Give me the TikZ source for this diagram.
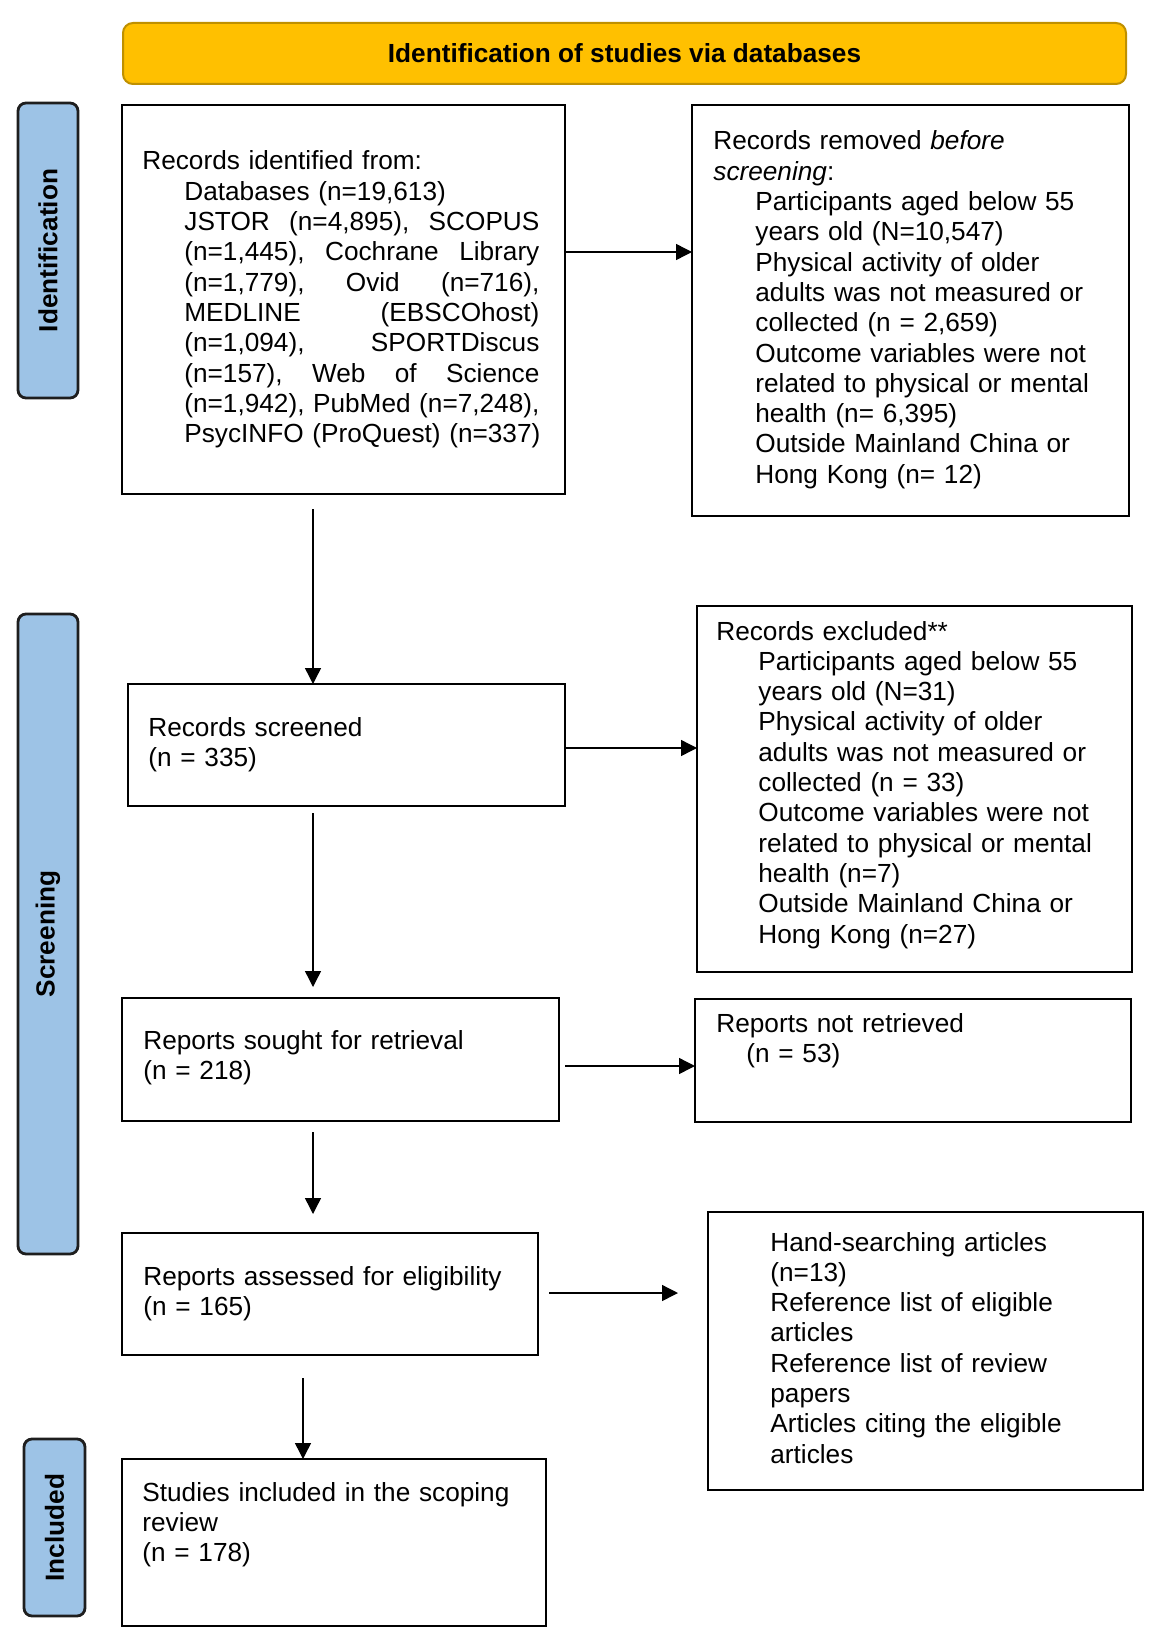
\documentclass[tikz,border=0pt]{standalone}
\usepackage{fontspec}
\setmainfont{Liberation Sans}
\usetikzlibrary{arrows.meta}
\definecolor{hdrfill}{HTML}{FFC000}
\definecolor{hdrline}{HTML}{BF9000}
\definecolor{lblfill}{HTML}{9DC3E6}
\definecolor{lblline}{HTML}{1E1E1E}
\newcommand\myfs{\fontsize{13.1pt}{15.15pt}\selectfont}
\newcommand\ind{\hspace*{21pt}}
\newcommand\js{\hskip 0.278em plus 1fil\relax}
\newcommand\jline[1]{\hbox to 177.5pt{#1}}
\begin{document}
\begin{tikzpicture}[x=0.5pt,y=-0.5pt,
  box/.style={draw=black, line width=1.3pt, fill=white, inner sep=0pt, outer sep=0pt},
  lbl/.style={draw=lblline, line width=1.4pt, fill=lblfill, rounded corners=4pt, inner sep=0pt, outer sep=0pt},
  lbltxt/.style={rotate=90, font=\myfs\bfseries, inner sep=0pt},
  txt/.style={anchor=base west, inner sep=0pt, text width=205pt, align=left, font=\myfs},
  arr/.style={line width=0.7pt, -{Triangle[length=8pt,width=8pt]}}]
\useasboundingbox (0,0) rectangle (1154,1637);

% header
\node[draw=hdrline, line width=1pt, fill=hdrfill, rounded corners=5pt,
      minimum width=501.5pt, minimum height=30.5pt, inner sep=0pt,
      font=\myfs\bfseries] (hdr) at (624.5,53.5) {Identification of studies via databases};

% side labels
\node[lbl, minimum width=30pt, minimum height=147.5pt] (lid) at (48,250.5) {};
\node[lbltxt] (tid) at (lid.center) {Identification};
\node[lbl, minimum width=30pt, minimum height=320pt] (lsc) at (48,934) {};
\node[lbltxt] (tsc) at (lsc.center) {Screening};
\node[lbl, minimum width=30.5pt, minimum height=88.5pt] (lin) at (54.5,1527.5) {};
\node[lbltxt] (tin) at (lin.center) {Included};

% boxes
\node[box, minimum width=221.5pt, minimum height=194.5pt] (b1) at (343.5,299.5) {};
\node[box, minimum width=218.5pt, minimum height=205.5pt] (b2) at (910.5,310.5) {};
\node[box, minimum width=218.5pt, minimum height=61pt]    (b3) at (346.5,745) {};
\node[box, minimum width=217.5pt, minimum height=183pt]   (b4) at (914.5,789) {};
\node[box, minimum width=218.5pt, minimum height=61.5pt]  (b5) at (340.5,1059.5) {};
\node[box, minimum width=218pt,   minimum height=61.5pt]  (b6) at (913,1060.5) {};
\node[box, minimum width=208pt,   minimum height=61pt]    (b7) at (330,1294) {};
\node[box, minimum width=217.5pt, minimum height=139pt]   (b8) at (925.5,1351) {};
\node[box, minimum width=212pt,   minimum height=83.5pt]  (b9) at (334,1542.5) {};

% texts
\node[txt] (t1) at (142,170) {Records identified from:\\
\ind Databases (n=19,613)\\
\ind\jline{JSTOR\js(n=4,895),\js SCOPUS}\\
\ind\jline{(n=1,445),\js Cochrane\js Library}\\
\ind\jline{(n=1,779),\js Ovid\js(n=716),}\\
\ind\jline{MEDLINE\js(EBSCOhost)}\\
\ind\jline{(n=1,094),\js SPORTDiscus}\\
\ind\jline{(n=157),\js Web\js of\js Science}\\
\ind\jline{(n=1,942),\js PubMed\js(n=7,248),}\\
\ind PsycINFO (ProQuest) (n=337)};

\node[txt] (t2) at (713,150) {Records removed \textit{before}\\
\textit{screening}:\\
\ind Participants aged below 55\\
\ind years old (N=10,547)\\
\ind Physical activity of older\\
\ind adults was not measured or\\
\ind collected (n = 2,659)\\
\ind Outcome variables were not\\
\ind related to physical or mental\\
\ind health (n= 6,395)\\
\ind Outside Mainland China or\\
\ind Hong Kong (n= 12)};

\node[txt] (t3) at (148,736) {Records screened\\(n = 335)};

\node[txt] (t4) at (716,640) {Records excluded**\\
\ind Participants aged below 55\\
\ind years old (N=31)\\
\ind Physical activity of older\\
\ind adults was not measured or\\
\ind collected (n = 33)\\
\ind Outcome variables were not\\
\ind related to physical or mental\\
\ind health (n=7)\\
\ind Outside Mainland China or\\
\ind Hong Kong (n=27)};

\node[txt] (t5) at (143,1049) {Reports sought for retrieval\\(n = 218)};
\node[txt] (t6) at (716,1032) {Reports not retrieved\\\hspace*{15pt}(n = 53)};
\node[txt] (t7) at (143,1285) {Reports assessed for eligibility\\(n = 165)};
\node[txt] (t8) at (770,1251) {Hand-searching articles\\(n=13)\\Reference list of eligible\\articles\\Reference list of review\\papers\\Articles citing the eligible\\articles};
\node[txt] (t9) at (142,1501) {Studies included in the scoping\\review\\(n = 178)};

% connector end points
\coordinate (s1) at (313,509);
\coordinate (s2) at (313,813);
\coordinate (e2) at (313,987);
\coordinate (s3) at (313,1132);
\coordinate (e3) at (313,1214);
\coordinate (s4) at (303,1378);
\coordinate (h1) at (0,252);
\coordinate (h2) at (0,748);
\coordinate (h3) at (565,1066);
\coordinate (h4s) at (549,1293);
\coordinate (h4e) at (678,1293);

% connectors
\draw[arr] (b1.east |- h1) -- (b2.west |- h1);
\draw[arr] (s1) -- (s1 |- b3.north);
\draw[arr] (b3.east |- h2) -- (b4.west |- h2);
\draw[arr] (s2) -- (e2);
\draw[arr] (h3) -- (b6.west |- h3);
\draw[arr] (s3) -- (e3);
\draw[arr] (h4s) -- (h4e);
\draw[arr] (s4) -- (s4 |- b9.north);
\end{tikzpicture}
\end{document}
